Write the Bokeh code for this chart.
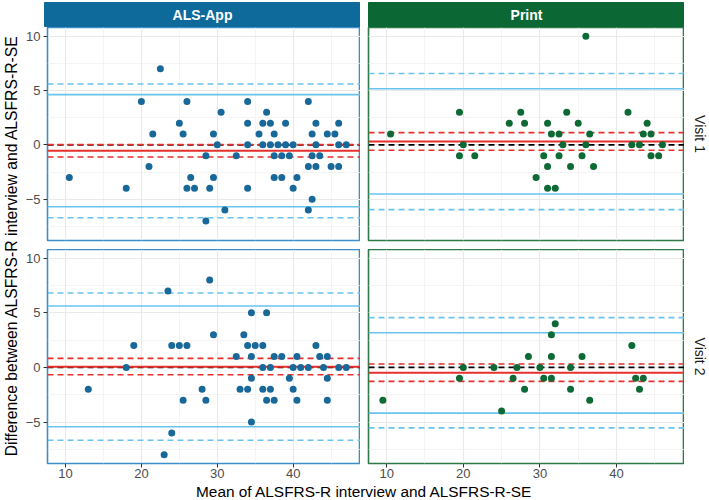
import math

from bokeh.core.properties import value
from bokeh.embed import file_html
from bokeh.layouts import column, row
from bokeh.models import FixedTicker, Range1d, Spacer
from bokeh.plotting import figure
from bokeh.resources import INLINE

# ---------------------------------------------------------------------------
# Data: Bland-Altman agreement between ALSFRS-R interview and ALSFRS-R-SE
# ---------------------------------------------------------------------------
groups = ["ALS-App", "Print"]
visits = ["Visit 1", "Visit 2"]

# ALS-App, visit 1
app_v1_mean = [10.5, 22.5, 20, 26, 34, 42, 30.5, 36.5, 25, 34, 36, 37, 39, 43, 46,
               21.5, 25.5, 29.5, 35.5, 37.5, 42.5, 44.5, 45.5,
               30, 34, 36, 37, 38, 39, 40, 43, 46, 47,
               28.5, 32.5, 37.5, 38.5, 39.5, 42.5, 43.5,
               21, 42, 43, 45, 46,
               26.5, 29.5, 37.5, 38.5, 40.5,
               18, 26, 27, 29, 34, 40,
               42.5, 31, 42, 28.5]
app_v1_diff = [-3, 7, 4, 4, 4, 4, 3, 3, 2, 2, 2, 2, 2, 2, 2,
               1, 1, 1, 1, 1, 1, 1, 1,
               0, 0, 0, 0, 0, 0, 0, 0, 0, 0,
               -1, -1, -1, -1, -1, -1, -1,
               -2, -2, -2, -2, -2,
               -3, -3, -3, -3, -3,
               -4, -4, -4, -4, -4, -4,
               -5, -6, -6, -7]

# Print, visit 1
print_v1_mean = [10.5, 36, 19.5, 27.5, 33.5, 41.5, 26, 28, 31, 35, 44,
                 31.5, 32.5, 36.5, 43.5, 44.5,
                 20, 33, 36, 42, 43, 46,
                 19.5, 21.5, 30.5, 32.5, 35.5, 44.5, 45.5,
                 31, 34, 37, 29.5, 31, 32]
print_v1_diff = [1, 10, 3, 3, 3, 3, 2, 2, 2, 2, 2,
                 1, 1, 1, 1, 1,
                 0, 0, 0, 0, 0, 0,
                 -1, -1, -1, -1, -1, -1, -1,
                 -2, -2, -2, -3, -4, -4]

# ALS-App, visit 2
app_v2_mean = [13, 18, 19, 23.5, 23, 24, 24, 25, 26, 25.5, 28, 28.5, 29, 29.5,
               32.5, 33, 33.5, 34, 34, 34.5, 34.5, 34.5, 34.5, 35, 36, 36, 36,
               36.5, 36.5, 37, 37, 37.5, 37.5, 38.5, 39.5, 40, 40, 40.5, 40.5,
               41, 42, 43, 43.5, 44, 44.5, 44.5, 44.5, 46, 47]
app_v2_diff = [-2, 0, 2, 7, -8, -6, 2, 2, 2, -3, -2, -3, 8, 3,
               1, -2, 3, 2, -2, 5, 1, -1, -5, 2, 2, 0, -2,
               5, -3, 0, -2, 1, -3, 1, -1, 0, -2, 1, -3,
               0, 0, 2, 1, 0, 1, -1, -3, 0, 0]

# Print, visit 2
print_v2_mean = [9.5, 19.5, 20, 24, 25, 26.5, 27, 28, 28.5, 30, 30.5, 31.5, 31.5,
                 31.5, 32, 34, 34, 35.5, 36.5, 42, 42.5, 43, 43.5]
print_v2_diff = [-3, -1, 0, 0, -4, -1, 0, -2, 1, 0, -1, 3, 1,
                 -1, 4, 0, -2, 1, -3, 2, -1, -2, -1]

# Mean bias with its 95% CI, limits of agreement and outer CI of the limits
# order: App V1, Print V1, App V2, Print V2
bias = [-0.55, 0.32, 0.07, -0.49]
bias_ci_low = [-1.12, -0.50, -0.67, -1.28]
bias_ci_high = [0.02, 1.13, 0.83, 0.31]
loa_low = [-5.69, -4.52, -5.44, -4.19]
loa_high = [4.62, 5.17, 5.63, 3.18]
loa_ci_low = [-6.70, -5.96, -6.67, -5.54]
loa_ci_high = [5.60, 6.57, 6.82, 4.56]

x_ticks = [10, 20, 30, 40]
x_minor = [15, 25, 35, 45]
y_ticks = [-5, 0, 5, 10]
y_minor = [-7.5, -2.5, 2.5, 7.5]
y_tick_labels = {-5: "\u22125", 0: "0", 5: "5", 10: "10"}

x_title = "Mean of ALSFRS-R interview and ALSFRS-R-SE"
y_title = "Difference between ALSFRS-R interview and ALSFRS-R-SE"

# ---------------------------------------------------------------------------
# Styling
# ---------------------------------------------------------------------------
FONT = "Liberation Sans"
STRIP_COL = {"ALS-App": "#0f6a9c", "Print": "#0b6835"}
POINT_COL = {"ALS-App": "#19689a", "Print": "#0e6a35"}
BORDER_COL = {"ALS-App": "#3d8ec7", "Print": "#2d7a48"}
SKY = "#68c4ec"
RED = "#e5302c"
GRID_COL = "#e9e9e9"

X_RANGE = (7.625, 48.875)
Y_RANGE = (-8.8, 10.8)

FRAME_W = 316
LEFT_PAD = 22      # room for y tick labels in the left column
GAP = 8            # gap between panel columns
VIS_W = 25         # width of the row-label strip
STRIP_H = 27
TOP_H, TOP_BOTTOM = 213, 9
BOT_H, BOT_BOTTOM = 214, 19


def blank(width, height, xr, yr, **kw):
    p = figure(width=width, height=height, x_range=Range1d(*xr), y_range=Range1d(*yr),
               x_axis_location=None, y_axis_location=None, toolbar_location=None,
               output_backend="svg", min_border=0, outline_line_color=None,
               title=None, **kw)
    p.grid.visible = False
    return p


def panel(idx, group, mean, diff, show_x, show_y):
    frame_h = TOP_H if idx < 2 else BOT_H
    bottom = TOP_BOTTOM if idx < 2 else BOT_BOTTOM
    left = LEFT_PAD if show_y else GAP
    p = figure(width=left + FRAME_W, height=frame_h + bottom,
               x_range=Range1d(*X_RANGE), y_range=Range1d(*Y_RANGE),
               x_axis_location="below" if show_x else None,
               y_axis_location="left" if show_y else None,
               toolbar_location=None, output_backend="svg", title=None,
               min_border_left=left, min_border_right=0, min_border_top=0,
               min_border_bottom=bottom)
    p.outline_line_color = BORDER_COL[group]
    p.outline_line_width = 1.6
    p.background_fill_color = "white"

    p.xgrid.ticker = FixedTicker(ticks=x_ticks, minor_ticks=x_minor)
    p.ygrid.ticker = FixedTicker(ticks=y_ticks, minor_ticks=y_minor)
    for g in (p.xgrid, p.ygrid):
        g.grid_line_color = GRID_COL
        g.grid_line_width = 1.1
        g.minor_grid_line_color = "#efefef"
        g.minor_grid_line_width = 0.7

    axes = []
    if show_x:
        p.xaxis.ticker = FixedTicker(ticks=x_ticks)
        p.xaxis.major_label_standoff = 1
        axes.append(p.xaxis)
    if show_y:
        p.yaxis.ticker = FixedTicker(ticks=y_ticks)
        p.yaxis.major_label_overrides = y_tick_labels
        p.yaxis.major_label_standoff = 3
        axes.append(p.yaxis)
    for ax in axes:
        ax.axis_line_color = None
        ax.major_tick_in = 0
        ax.major_tick_out = 4
        ax.minor_tick_out = 0
        ax.minor_tick_in = 0
        ax.major_tick_line_color = "#333333"
        ax.major_label_text_color = "#4d4d4d"
        ax.major_label_text_font = FONT
        ax.major_label_text_font_size = "13px"

    x0, x1 = X_RANGE
    dash = "6 4"
    # limits of agreement and their outer confidence bounds
    p.segment(x0=[x0, x0], x1=[x1, x1], y0=[loa_ci_low[idx], loa_ci_high[idx]],
              y1=[loa_ci_low[idx], loa_ci_high[idx]], line_color=SKY, line_width=1.6,
              line_dash=dash)
    p.segment(x0=[x0, x0], x1=[x1, x1], y0=[loa_low[idx], loa_high[idx]],
              y1=[loa_low[idx], loa_high[idx]], line_color=SKY, line_width=1.6)
    # zero line
    p.segment(x0=[x0], x1=[x1], y0=[0], y1=[0], line_color="black", line_width=1.6,
              line_dash=dash)
    # bias and its confidence interval
    p.segment(x0=[x0, x0], x1=[x1, x1], y0=[bias_ci_low[idx], bias_ci_high[idx]],
              y1=[bias_ci_low[idx], bias_ci_high[idx]], line_color=RED, line_width=1.6,
              line_dash=dash)
    p.segment(x0=[x0], x1=[x1], y0=[bias[idx]], y1=[bias[idx]], line_color=RED,
              line_width=2.0)

    p.scatter(mean, diff, size=7, color=POINT_COL[group], line_color=None)
    return p


def strip(group):
    p = blank(FRAME_W, STRIP_H, (0, 1), (0, 1), min_border_top=2)
    p.min_border_top = 2
    p.background_fill_color = STRIP_COL[group]
    p.border_fill_color = "white"
    p.outline_line_color = STRIP_COL[group]
    p.text(x=[0.5], y=[0.5], text=[group], text_color="white", text_align="center",
           text_baseline="middle", text_font=value(FONT), text_font_style="bold",
           text_font_size="14px")
    return p


def row_label(label, frame_h, bottom):
    p = blank(VIS_W, frame_h + bottom, (0, VIS_W), (0, 1))
    p.min_border_bottom = bottom
    p.text(x=[15], y=[0.5], text=[label], angle=-math.pi / 2, text_color="#1a1a1a",
           text_align="center", text_baseline="middle", text_font=value(FONT),
           text_font_size="14px")
    return p


tl = panel(0, "ALS-App", app_v1_mean, app_v1_diff, show_x=False, show_y=True)
tr = panel(1, "Print", print_v1_mean, print_v1_diff, show_x=False, show_y=False)
bl = panel(2, "ALS-App", app_v2_mean, app_v2_diff, show_x=True, show_y=True)
br = panel(3, "Print", print_v2_mean, print_v2_diff, show_x=True, show_y=False)

# shared axis titles
total_h = 500
ytitle = blank(22, total_h, (0, 22), (0, total_h))
ytitle.text(x=[11], y=[total_h - 245], text=[y_title], angle=math.pi / 2,
            text_color="black", text_align="center", text_baseline="middle",
            text_font=value(FONT), text_font_size="15.7px")

xt_w = LEFT_PAD + FRAME_W + GAP + FRAME_W + VIS_W
xt_h = total_h - STRIP_H - (TOP_H + TOP_BOTTOM) - (BOT_H + BOT_BOTTOM)
xtitle = blank(xt_w, xt_h, (0, xt_w), (0, xt_h))
xtitle.text(x=[LEFT_PAD + (2 * FRAME_W + GAP) / 2], y=[xt_h / 2 + 0.5], text=[x_title],
            text_color="black", text_align="center", text_baseline="middle",
            text_font=value(FONT), text_font_size="15.4px")

layout = row(
    ytitle,
    column(
        row(Spacer(width=LEFT_PAD, height=STRIP_H), strip("ALS-App"),
            Spacer(width=GAP, height=STRIP_H), strip("Print"),
            Spacer(width=VIS_W, height=STRIP_H)),
        row(tl, tr, row_label(visits[0], TOP_H, TOP_BOTTOM)),
        row(bl, br, row_label(visits[1], BOT_H, BOT_BOTTOM)),
        xtitle,
    ),
)

open("out.html", "w").write(file_html(layout, INLINE))
